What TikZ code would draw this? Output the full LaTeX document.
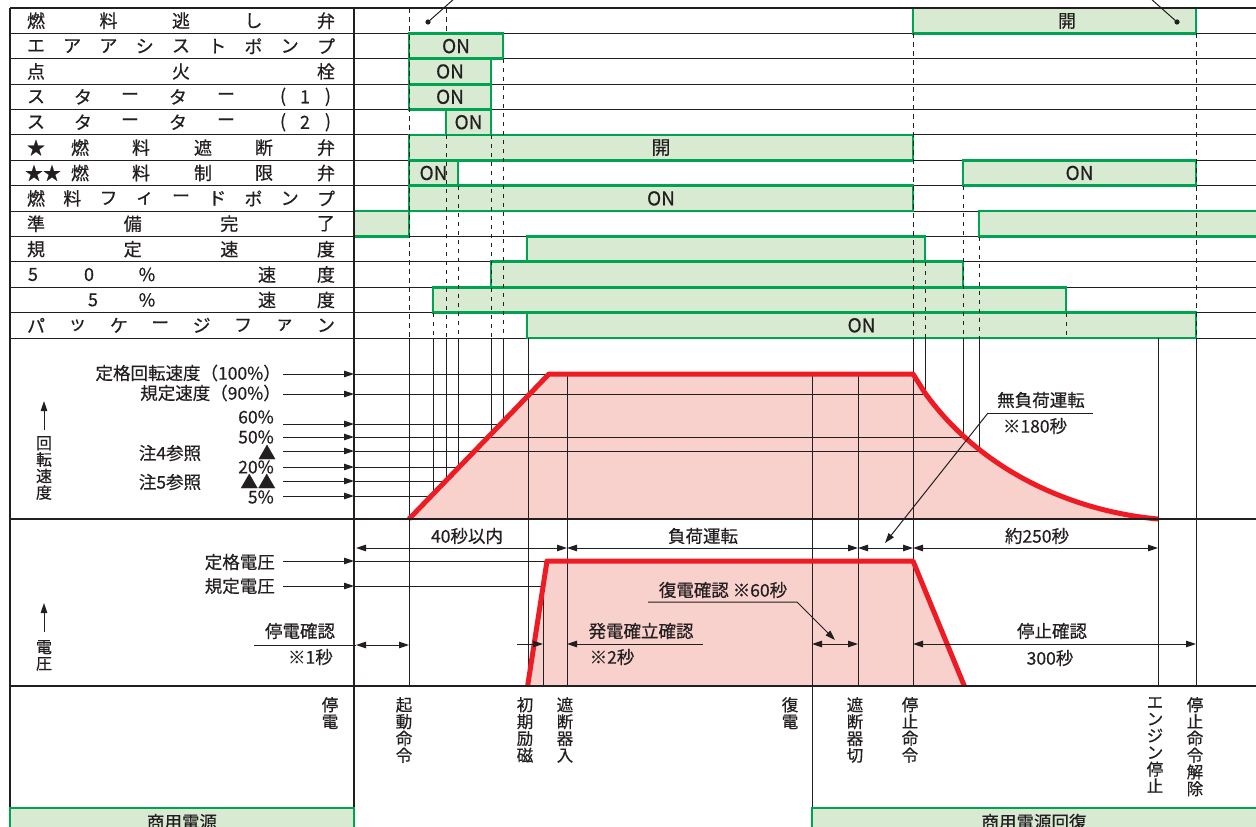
\documentclass[tikz,border=0pt]{standalone}
\usepackage{fontspec}
\setmainfont{Noto Sans CJK JP}[FakeBold=0.5]
\usetikzlibrary{arrows.meta}
\definecolor{onfill}{RGB}{217,234,211}
\definecolor{onedge}{RGB}{0,163,80}
\definecolor{rev}{RGB}{237,28,36}
\definecolor{revfill}{RGB}{248,208,204}
\definecolor{ink}{RGB}{35,31,32}

% one row of the sequence table: row number, then position/character pairs
\newcommand\tabrow[2]{%
  \foreach \px/\ch [count=\k] in {#2}
    \node[tlab] (t#1c\k) at (\px,{8+25.385*(#1-0.5)}) {\ch};}
% a green bar in the table: row, start, end, text
\newcommand\onbar[4]{%
  \draw[onbox] (#2,{8+25.385*(#1-1)}) rectangle (#3,{8+25.385*#1});
  \node[tlab, font=\fontsize{19}{20}\selectfont] (b#1x#2) at ({(#2+#3)/2},{8+25.385*(#1-0.5)}) {#4};}

\begin{document}
\begin{tikzpicture}[x=1pt, y=-1pt,
    tlab/.style={font=\fontsize{18}{20}\selectfont, color=ink, inner sep=0pt},
    glab/.style={font=\fontsize{17.5}{20}\selectfont, color=ink, inner sep=0pt},
    vlab/.style={font=\fontsize{16.5}{16.8}\selectfont, color=ink, inner sep=0pt,
                 anchor=north, align=center},
    onbox/.style={fill=onfill, draw=onedge, line width=2.8pt},
    rule/.style={ink, line width=1pt},
    heavy/.style={ink, line width=2.6pt},
    guide/.style={ink, line width=1pt, dash pattern=on 4.5pt off 4.5pt},
    rpmline/.style={rev, line width=5pt, line join=round},
    >={Triangle[length=10pt,width=6.5pt]}]
  \useasboundingbox (0,0) rectangle (1256,827);

  % areas under speed and voltage go below everything
  \fill[revfill] (409,519) -- (549,374) -- (913,374) -- (925,393)
    .. controls (985,476) and (1080,512) .. (1158,519) -- cycle;
  \fill[revfill] (527,686) -- (547,561) -- (913,561) -- (965,686) -- cycle;

  % table rows
  \foreach \r in {1,...,13}
    \draw[rule] (10,{8+25.385*\r}) -- (1256,{8+25.385*\r});

  \tabrow{1}{36/燃,108.5/料,181/逃,253.5/し,326/弁}
  \tabrow{2}{36/エ,72.25/ア,108.5/ア,144.75/シ,181/ス,217.25/ト,253.5/ポ,289.75/ン,326/プ}
  \tabrow{3}{36/点,181/火,326/栓}
  \tabrow{4}{36/ス,83/タ,130/ー,178/タ,226/ー,283/(,305/1,328/)}
  \tabrow{5}{36/ス,83/タ,130/ー,178/タ,226/ー,283/(,305/2,328/)}
  \tabrow{6}{36/★,80/燃,141/料,203/遮,264/断,326/弁}
  \tabrow{7}{43/★★,80/燃,141/料,203/制,264/限,326/弁}
  \tabrow{8}{36/燃,72.25/料,108.5/フ,144.75/ィ,181/ー,217.25/ド,253.5/ポ,289.75/ン,326/プ}
  \tabrow{9}{36/準,132.7/備,229.3/完,326/了}
  \tabrow{10}{36/規,132.7/定,229.3/速,326/度}
  \tabrow{11}{33/5,89/0,147/\%,267/速,326/度}
  \tabrow{12}{93/5,147/\%,267/速,326/度}
  \tabrow{13}{36/パ,77.4/ッ,118.9/ケ,160.3/ー,201.7/ジ,243.1/フ,284.6/ァ,326/ン}

  % on/off bars
  \onbar{1}{913}{1196}{}
  \node[tlab] (open1) at (1067,21) {開};
  \onbar{2}{409}{503}{ON}
  \onbar{3}{409}{491}{ON}
  \onbar{4}{409}{491}{ON}
  \onbar{5}{446}{491}{ON}
  \onbar{6}{409}{913}{開}
  \onbar{7}{409}{458}{ON}
  \onbar{7}{963}{1196}{ON}
  \onbar{8}{409}{913}{ON}
  \onbar{9}{354}{409}{}
  \onbar{9}{979}{1270}{}
  \onbar{10}{527}{925}{}
  \onbar{11}{491}{963}{}
  \onbar{12}{433}{1066}{}
  \onbar{13}{527}{1196}{ON}

  % leaders to the note above
  \fill[ink] (428,22) circle (2.6pt);
  \draw[rule] (428,22) -- (455,-2);
  \fill[ink] (1177,22) circle (2.6pt);
  \draw[rule] (1177,22) -- (1150,-2);

  % time marks through the table
  \foreach \gx/\gy in {409/8, 433/312.6, 446/134.9, 458/185.7, 491/134.9, 503/58.8,
                       913/33.4, 925/261.8, 963/185.7, 979/236.5, 1066/312.6, 1196/33.4}
    \draw[guide] (\gx,\gy) -- (\gx,338);
  \draw[guide] (446,8) -- (446,33.4);

  % level lines and time marks in the graphs
  \foreach \ly/\lx in {374/913, 394/925, 424/503, 437/963, 451/979, 467/458, 481/446, 496/433}
    \draw[rule] (354,\ly) -- (\lx,\ly);
  \foreach \vx/\va/\vb in {409/338/686, 433/338/496, 446/338/481, 458/338/467, 491/338/437,
                           503/338/424, 528/338/686, 567/374/686, 812/374/808, 858/374/686,
                           913/338/686, 925/338/394, 963/338/437, 979/338/451,
                           1158/338/686, 1196/338/686}
    \draw[rule] (\vx,\va) -- (\vx,\vb);
  \draw[rule] (354,561) -- (547,561);
  \draw[rule] (354,586) -- (543,586) -- (543,686);

  % speed and voltage
  \begin{scope}
    \clip (354,338) rectangle (1256,686);
    \draw[rpmline] (409,519) -- (549,374) -- (913,374) -- (925,393)
      .. controls (985,476) and (1080,512) .. (1158,519);
    \draw[rpmline] (527,690) -- (547,561) -- (913,561) -- (966,690);
  \end{scope}

  % speed levels
  \node[glab, anchor=east] (s100) at (281,373) {定格回転速度（100\%）};
  \node[glab, anchor=east] (s90) at (281,393) {規定速度（90\%）};
  \node[glab, anchor=east] (s60) at (274,417) {60\%};
  \node[glab, anchor=east] (s50) at (274,437) {50\%};
  \node[glab] (n4) at (267,452) {▲};
  \node[glab, anchor=east] (s20) at (274,467) {20\%};
  \node[glab] (n5) at (258,481) {▲▲};
  \node[glab, anchor=east] (s5) at (274,497) {5\%};
  \node[glab] (n4t) at (170,453) {注4参照};
  \node[glab] (n5t) at (170,482) {注5参照};
  \foreach \ay in {374,394,424,437,451,467,481,496}
    \draw[rule, ->] (283,\ay) -- (354,\ay);

  \draw[rule, ->] (44,430) -- (44,401);
  \node[vlab, font=\fontsize{16}{16.5}\selectfont] (axrev) at (44,436) {回\\転\\速\\度};
  \draw[rule, ->] (44,632) -- (44,603);
  \node[vlab, font=\fontsize{16}{16.5}\selectfont] (axvolt) at (44,640) {電\\圧};

  % voltage levels
  \node[glab, anchor=east] (v100) at (275,562) {定格電圧};
  \node[glab, anchor=east] (v90) at (275,586) {規定電圧};
  \draw[rule, ->] (283,561) -- (354,561);
  \draw[rule, ->] (283,586) -- (354,586);

  % durations
  \node[glab] (d40) at (467,536) {40秒以内};
  \node[glab] (dload) at (703,536) {負荷運転};
  \node[glab] (d250) at (1037,536) {約250秒};
  \draw[rule, <->] (356,548) -- (567,548);
  \draw[rule, <->] (567,548) -- (858,548);
  \draw[rule, <->] (858,548) -- (913,548);
  \draw[rule, <->] (913,548) -- (1158,548);

  \node[glab] (noload) at (1041,400) {無負荷運転};
  \node[glab] (noloadt) at (1035,426) {※180秒};
  \draw[rule] (988,413) -- (1093,413);
  \draw[rule, ->] (988,413) -- (885,543);

  \node[glab] (pcheck) at (300,631) {停電確認};
  \node[glab, anchor=east] (pcheckt) at (333,657) {※1秒};
  \draw[rule] (254,645) -- (356,645);
  \draw[rule, <->] (356,645) -- (409,645);

  \node[glab] (gcheck) at (641,631) {発電確立確認};
  \node[glab] (gcheckt) at (612,657) {※2秒};
  \draw[rule, ->] (517,644) -- (543,644);
  \draw[rule, ->] (703,644) -- (567,644);

  \node[glab] (rcheck) at (723,590) {復電確認 ※60秒};
  \draw[rule, ->] (648,602) -- (797,602) -- (835,640);
  \draw[rule, <->] (812,644) -- (858,644);

  \node[glab] (scheck) at (1052,631) {停止確認};
  \node[glab] (scheckt) at (1050,658) {300秒};
  \draw[rule, <->] (913,644) -- (1196,644);

  % events
  \node[vlab] (ev0) at (330,697) {停\\電};
  \node[vlab] (ev1) at (404,697) {起\\動\\命\\令};
  \node[vlab] (ev2) at (525,697) {初\\期\\励\\磁};
  \node[vlab] (ev3) at (565,697) {遮\\断\\器\\入};
  \node[vlab] (ev4) at (790,697) {復\\電};
  \node[vlab] (ev5) at (855,697) {遮\\断\\器\\切};
  \node[vlab] (ev6) at (910,697) {停\\止\\命\\令};
  \node[vlab] (ev7) at (1155,697) {エ\\ン\\ジ\\ン\\停\\止};
  \node[vlab] (ev8) at (1195,697) {停\\止\\命\\令\\解\\除};

  % frame
  \draw[heavy] (10,8) -- (1256,8);
  \draw[heavy] (10,8) -- (10,808);
  \draw[heavy] (354,8) -- (354,808);
  \draw[heavy] (10,519) -- (1256,519);
  \draw[heavy] (10,686) -- (1256,686);

  % mains supply
  \draw[onbox] (10,808) rectangle (354,834);
  \node[glab] (mains) at (182,822) {商用電源};
  \draw[onbox] (812,808) rectangle (1270,834);
  \node[glab] (mainsback) at (1034,822) {商用電源回復};
\end{tikzpicture}
\end{document}
